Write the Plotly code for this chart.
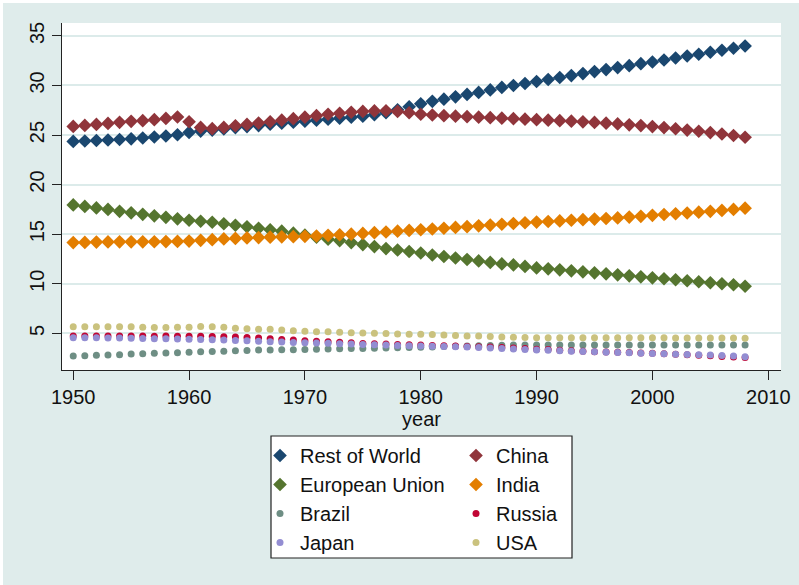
import plotly.graph_objects as go

years = list(range(1950, 2009))

rest_of_world = [
    24.36, 24.40, 24.45, 24.50, 24.55, 24.62, 24.70, 24.80, 24.90, 25.03,
    25.26, 25.40, 25.50, 25.62, 25.75, 25.85, 25.95, 26.10, 26.20, 26.30,
    26.40, 26.50, 26.60, 26.70, 26.80, 26.90, 27.05, 27.25, 27.55, 27.85,
    28.15, 28.40, 28.62, 28.85, 29.10, 29.30, 29.55, 29.80, 30.00, 30.20,
    30.40, 30.60, 30.80, 31.00, 31.20, 31.40, 31.60, 31.80, 32.00, 32.20,
    32.37, 32.57, 32.77, 32.97, 33.15, 33.35, 33.55, 33.75, 33.98,
]
china = [
    25.87, 25.97, 26.07, 26.17, 26.28, 26.38, 26.45, 26.55, 26.68, 26.82,
    26.34, 25.77, 25.64, 25.77, 25.94, 26.07, 26.21, 26.34, 26.50, 26.65,
    26.80, 26.95, 27.10, 27.20, 27.30, 27.38, 27.43, 27.45, 27.38, 27.25,
    27.10, 27.02, 26.95, 26.90, 26.85, 26.80, 26.75, 26.70, 26.65, 26.60,
    26.55, 26.50, 26.45, 26.40, 26.33, 26.27, 26.20, 26.12, 26.03, 25.95,
    25.85, 25.75, 25.63, 25.50, 25.38, 25.25, 25.10, 24.95, 24.78,
]
european_union = [
    17.95, 17.80, 17.65, 17.50, 17.30, 17.15, 17.00, 16.85, 16.70, 16.55,
    16.40, 16.30, 16.20, 16.05, 15.90, 15.75, 15.60, 15.45, 15.30, 15.10,
    14.90, 14.70, 14.50, 14.35, 14.15, 13.95, 13.75, 13.55, 13.40, 13.25,
    13.10, 12.90, 12.75, 12.60, 12.45, 12.30, 12.15, 12.00, 11.90, 11.75,
    11.60, 11.50, 11.40, 11.30, 11.20, 11.10, 11.00, 10.90, 10.80, 10.70,
    10.60, 10.50, 10.40, 10.30, 10.20, 10.10, 10.00, 9.90, 9.75,
]
india = [
    14.15, 14.17, 14.20, 14.22, 14.23, 14.23, 14.23, 14.24, 14.25, 14.27,
    14.30, 14.38, 14.45, 14.52, 14.57, 14.62, 14.66, 14.70, 14.73, 14.75,
    14.78, 14.82, 14.88, 14.94, 15.00, 15.08, 15.15, 15.22, 15.30, 15.38,
    15.45, 15.52, 15.60, 15.68, 15.76, 15.84, 15.92, 16.00, 16.08, 16.15,
    16.22, 16.28, 16.34, 16.40, 16.46, 16.52, 16.58, 16.64, 16.72, 16.80,
    16.90, 16.98, 17.06, 17.14, 17.22, 17.30, 17.40, 17.50, 17.62,
]
brazil = [
    2.71, 2.74, 2.78, 2.81, 2.84, 2.91, 2.94, 2.98, 3.01, 3.04,
    3.08, 3.14, 3.17, 3.20, 3.24, 3.27, 3.31, 3.31, 3.34, 3.34,
    3.38, 3.40, 3.42, 3.44, 3.46, 3.48, 3.50, 3.52, 3.54, 3.57,
    3.60, 3.63, 3.66, 3.69, 3.72, 3.75, 3.78, 3.80, 3.82, 3.82,
    3.83, 3.83, 3.83, 3.83, 3.83, 3.83, 3.83, 3.83, 3.83, 3.83,
    3.83, 3.83, 3.83, 3.83, 3.83, 3.83, 3.83, 3.83, 3.83,
]
russia = [
    4.73, 4.73, 4.72, 4.73, 4.72, 4.72, 4.72, 4.71, 4.72, 4.70,
    4.70, 4.70, 4.68, 4.65, 4.62, 4.59, 4.52, 4.45, 4.38, 4.32,
    4.25, 4.20, 4.15, 4.10, 4.04, 3.98, 3.95, 3.92, 3.88, 3.85,
    3.82, 3.78, 3.75, 3.72, 3.68, 3.65, 3.62, 3.58, 3.52, 3.46,
    3.40, 3.36, 3.30, 3.25, 3.20, 3.15, 3.12, 3.10, 3.06, 3.02,
    2.98, 2.93, 2.88, 2.83, 2.78, 2.73, 2.66, 2.60, 2.55,
]
japan = [
    4.56, 4.56, 4.55, 4.54, 4.53, 4.50, 4.48, 4.46, 4.44, 4.42,
    4.39, 4.37, 4.35, 4.32, 4.28, 4.25, 4.20, 4.15, 4.12, 4.08,
    4.05, 4.02, 3.99, 3.96, 3.92, 3.88, 3.85, 3.81, 3.78, 3.75,
    3.72, 3.70, 3.67, 3.64, 3.61, 3.58, 3.53, 3.47, 3.42, 3.36,
    3.31, 3.28, 3.24, 3.20, 3.17, 3.14, 3.10, 3.07, 3.03, 3.00,
    2.97, 2.94, 2.90, 2.87, 2.84, 2.81, 2.75, 2.70, 2.64,
]
usa = [
    5.67, 5.67, 5.67, 5.67, 5.67, 5.67, 5.60, 5.58, 5.58, 5.60,
    5.60, 5.70, 5.67, 5.60, 5.52, 5.47, 5.42, 5.40, 5.33, 5.25,
    5.22, 5.17, 5.15, 5.10, 5.06, 5.02, 5.00, 4.98, 4.93, 4.90,
    4.90, 4.88, 4.83, 4.78, 4.74, 4.72, 4.68, 4.64, 4.60, 4.58,
    4.56, 4.56, 4.56, 4.56, 4.56, 4.56, 4.55, 4.55, 4.55, 4.55,
    4.55, 4.55, 4.54, 4.54, 4.53, 4.53, 4.52, 4.52, 4.50,
]

# (name, values, colour, symbol, legend column)
series = [
    ("Rest of World", rest_of_world, "#1A476F", "diamond", "legend"),
    ("China", china, "#90353B", "diamond", "legend2"),
    ("European Union", european_union, "#55752F", "diamond", "legend"),
    ("India", india, "#E37E00", "diamond", "legend2"),
    ("Brazil", brazil, "#6E8E84", "circle", "legend"),
    ("Russia", russia, "#C10534", "circle", "legend2"),
    ("Japan", japan, "#938DD2", "circle", "legend"),
    ("USA", usa, "#CAC27E", "circle", "legend2"),
]

x_ticks = [1950, 1960, 1970, 1980, 1990, 2000, 2010]
y_ticks = [5, 10, 15, 20, 25, 30, 35]

BG = "#DFECEB"
FONT = "Liberation Sans, Arial, sans-serif"
TXT = "#111"

fig = go.Figure()
for name, vals, color, sym, leg in series:
    fig.add_trace(go.Scatter(
        x=years, y=vals, name=name, mode="markers", legend=leg,
        marker=dict(symbol=sym, color=color, size=10.5 if sym == "diamond" else 7,
                    line=dict(width=0)),
    ))

W, H = 799, 585
L, R, T, B = 62, 18, 23, 215
pw, ph = W - L - R, H - T - B


def px_x(p):
    return (p - L) / pw


def px_y(p):
    return (T + ph - p) / ph


leg_common = dict(
    orientation="v", xanchor="left", yanchor="top",
    bgcolor="rgba(0,0,0,0)", borderwidth=0,
    font=dict(family=FONT, size=20, color=TXT),
    itemsizing="trace", tracegroupgap=0,
)

fig.update_layout(
    width=W, height=H,
    margin=dict(l=L, r=R, t=T, b=B, pad=0, autoexpand=False),
    paper_bgcolor=BG, plot_bgcolor="white",
    font=dict(family=FONT, size=20, color=TXT),
    showlegend=True,
    legend=dict(x=px_x(260), y=px_y(436), **leg_common),
    legend2=dict(x=px_x(456), y=px_y(436), **leg_common),
    xaxis=dict(
        range=[1949.03, 2011.1], tickvals=x_ticks, ticks="outside", ticklen=9,
        tickwidth=1.2, tickcolor="#222", showline=True, linecolor="#222",
        linewidth=1.3, showgrid=False, zeroline=False,
        title=dict(text="year", standoff=4, font=dict(size=20)),
        tickfont=dict(size=20),
    ),
    yaxis=dict(
        range=[1.3, 36.3], tickvals=y_ticks, ticks="outside", ticklen=9,
        tickwidth=1.2, tickcolor="#222", showline=True, linecolor="#222",
        linewidth=1.3, showgrid=True, gridcolor="#DCEBEA", gridwidth=1.6,
        zeroline=False, tickangle=-90, tickfont=dict(size=20),
    ),
)

# legend box
fig.add_shape(type="rect", xref="paper", yref="paper",
              x0=px_x(271), x1=px_x(572), y0=px_y(558), y1=px_y(436),
              fillcolor="white", line=dict(color="#222", width=1.2), layer="below")

# thin white strip on the top and left edges of the figure
fig.add_shape(type="rect", xref="paper", yref="paper",
              x0=px_x(0), x1=px_x(W), y0=px_y(3), y1=px_y(0),
              fillcolor="white", line=dict(width=0), layer="above")
fig.add_shape(type="rect", xref="paper", yref="paper",
              x0=px_x(0), x1=px_x(3), y0=px_y(H), y1=px_y(0),
              fillcolor="white", line=dict(width=0), layer="above")

fig.write_html("out.html")
